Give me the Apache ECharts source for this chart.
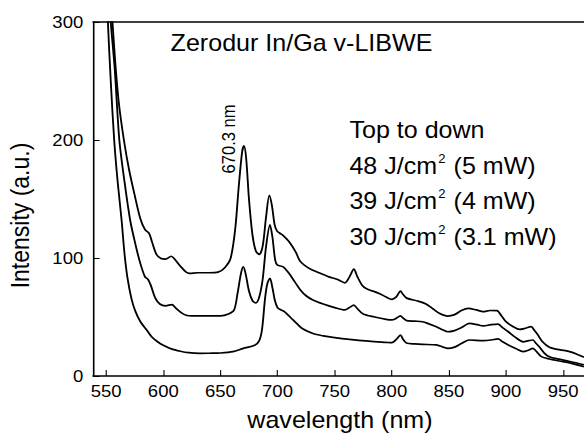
<!DOCTYPE html>
<html>
<head>
<meta charset="utf-8">
<script src="https://cdn.jsdelivr.net/npm/echarts@6/dist/echarts.min.js"></script>
<style>
html,body{margin:0;padding:0;background:#fff;overflow:hidden;}
#c{width:536px;height:441px;transform:scaleX(1.08955);transform-origin:0 0;}
</style>
</head>
<body>
<div id="c"></div>
<script>
// Tick labels
const xTicks = [550, 600, 650, 700, 750, 800, 850, 900, 950];
const yTicks = [0, 100, 200, 300];

// 48 J/cm2 (5 mW) - top curve: [wavelength nm, intensity a.u.]
const top48 = [
[553.5,330],[555.5,300],[558,265],[561,232],[565.5,200],[570,175],[575,153],[580,133],[584,124],[587.5,121],
[590,114],[594,103],[598,99.5],[602,99],[607,101.5],[610,99],[615,93],[620,88],[623,87],[630,87.5],
[640,87.5],[648,88],[654,92],[659,100],[663,125],[666,160],[669,190],[670.6,195],[672.5,185],[675,150],
[678,120],[681,106],[684,103],[687,110],[690,135],[692.8,153],[695,145],[697.5,128],[699.5,123],[702,121],
[705,119],[710,114],[716,105],[720,97],[728,91],[735,88],[745,84],[752,82],[759,79],[763,84],
[766.8,90.5],[770,84],[774,77],[778,74],[789,70],[795,67],[800,65],[804,67],[807.6,72],[810,69],
[813,66],[823,63.5],[830,61],[836,57],[842,53],[849,50.8],[855,52],[861,55.5],[867,57.3],[874,56],
[880,54.5],[886,55.5],[892,55.4],[896,51],[900,46],[906,42],[912,39.5],[917,40.5],[922,41.8],[925,38.5],
[928,34.7],[932,29],[938,24.3],[945,22.5],[952,21.5],[958,20],[962,18.5],[968.3,16]
];

// 39 J/cm2 (4 mW) - middle curve
const mid39 = [
[552,330],[554,300],[557.5,260],[561.5,200],[566,165],[571,132],[576,110],[580,95],[584,84],[586.5,82],
[589,77],[593,66],[597,61],[602,59.5],[607.5,60.5],[611,57.5],[616,53.5],[620,51.5],[625,51],[640,51],
[650,51],[657,52.5],[662,56],[665,70],[668,87],[670,92.5],[672,87],[675,72],[678,64],[681,62],
[684,67],[687,82],[690,110],[693.4,128],[695.5,118],[698,98],[700,94],[705,92.5],[710,87],[715,80],
[720,72.9],[725,68],[731,64.4],[740,61],[750,58],[759,56],[763,58],[766.8,60],[770,57],[775,52.5],
[785,50],[795,48],[800,47.5],[804,49],[807.6,51],[810,49],[813,46.9],[820,46.5],[827,46],[833,44],
[839,41.8],[845,39],[849,37.5],[855,38.5],[861,41],[868,44.6],[875,43.5],[880,42.4],[887,43.5],[893,44],
[897,41],[902,37.5],[908,33],[915,29],[920,30],[923.5,30.5],[926,28],[929.5,24.3],[934,19],[938,16.4],
[945,14.5],[955,12.5],[962,11],[968.3,9.5]
];

// 30 J/cm2 (3.1 mW) - bottom curve
const bot30 = [
[550.5,330],[551.5,300],[554,250],[557,200],[560,165],[563.5,132],[566,104],[568.5,84],[572,66],[575.5,55],
[580,46],[585.5,39],[590,33],[595,29],[600,26],[607,23],[615,21],[622,19.8],[632,19.2],[640,19.3],
[650,19.5],[661,20.6],[670,23.4],[680,26],[684,30],[686.5,40],[689,65],[691,78],[693.4,82.8],[695.5,75],
[697.7,64],[700,58],[702,56.5],[706,54.5],[711,50],[716.7,44.6],[722,40],[731,36],[740,34],[750,32.5],
[763,31],[780,29.5],[795,28.5],[800,28.2],[804,31],[807.6,34.7],[810,31],[813.4,27.7],[820,27.2],[827,26.8],
[839,26.3],[845,24.5],[849,23.4],[855,24.5],[861,27.5],[868,30.5],[880,30],[887,30.5],[893,31.4],[897,29],
[902,26.3],[909,23],[915,20.6],[920,22],[923.5,23.4],[927,20.5],[931,16.4],[938,14.4],[948,12.5],[958,10.5],
[968.3,8]
];

// Annotation block: [before superscript, superscript, after]
const legendLines = [
  ['Top to down', '', ''],
  ['48 J/cm', '2', ' (5 mW)'],
  ['39 J/cm', '2', ' (4 mW)'],
  ['30 J/cm', '2', ' (3.1 mW)']
];
const titleText = 'Zerodur In/Ga v-LIBWE';
const peakLabel = '670.3 nm';
const xName = 'wavelength (nm)';
const yName = 'Intensity (a.u.)';

const FONT = '"Liberation Sans", Arial, Helvetica, sans-serif';
const chart = echarts.init(document.getElementById('c'), null, {renderer: 'svg'});

function lineSeries(name, data) {
  return {
    name: name, type: 'line', data: data, xAxisIndex: 0, yAxisIndex: 0,
    showSymbol: false, symbol: 'none', smooth: 0.3, clip: true,
    lineStyle: {color: '#000', width: 1.7}, silent: true, animation: false
  };
}

const legendY = [130.3, 166, 201.3, 237];
const legendGraphics = legendLines.map((p, i) => ({
  type: 'text', x: 320.7, y: legendY[i],
  style: {
    text: p[1] ? '{a|' + p[0] + '}{s|' + p[1] + '}{a|' + p[2] + '}' : '{a|' + p[0] + '}',
    rich: {
      a: {fontSize: 23, fontFamily: FONT, fill: '#000', color: '#000', lineHeight: 26},
      s: {fontSize: 12, fontFamily: FONT, fill: '#000', color: '#000', verticalAlign: 'top', padding: [0, 1, 0, 1]}
    },
    fill: '#000', textAlign: 'left', verticalAlign: 'middle'
  }
}));

chart.setOption({
  animation: false,
  backgroundColor: '#fff',
  grid: {left: 85.4, right: 0, top: 22, bottom: 65, containLabel: false},
  xAxis: [{
    type: 'value', min: 538.5, max: 968.3, position: 'bottom',
    axisLine: {show: true, onZero: false, lineStyle: {color: '#000', width: 1.5}},
    axisTick: {show: true, inside: true, length: 6, customValues: xTicks, lineStyle: {color: '#000', width: 1}},
    axisLabel: {show: true, customValues: xTicks, color: '#000', fontSize: 17, fontFamily: FONT, margin: 7},
    splitLine: {show: false}
  }, {
    type: 'value', min: 538.5, max: 968.3, position: 'top',
    axisLine: {show: true, onZero: false, lineStyle: {color: '#000', width: 1.5}},
    axisTick: {show: false}, axisLabel: {show: false}, splitLine: {show: false}
  }],
  yAxis: {
    type: 'value', min: yTicks[0], max: yTicks[yTicks.length - 1], interval: 100,
    axisLine: {show: true, lineStyle: {color: '#000', width: 1.5}},
    axisTick: {show: true, inside: true, length: 6, lineStyle: {color: '#000', width: 1}},
    axisLabel: {color: '#000', fontSize: 17, fontFamily: FONT, margin: 9},
    splitLine: {show: false}
  },
  series: [lineSeries('48', top48), lineSeries('39', mid39), lineSeries('30', bot30)],
  graphic: [
    {type: 'text', x: 156.6, y: 42.7,
     style: {text: titleText, fill: '#000', font: '23px ' + FONT, textAlign: 'left', verticalAlign: 'middle'}},
    {type: 'text', x: 210.2, y: 139, rotation: Math.PI / 2,
     style: {text: peakLabel, fill: '#000', font: '16.5px ' + FONT, textAlign: 'center', verticalAlign: 'middle'}},
    {type: 'text', x: 312, y: 420.3,
     style: {text: xName, fill: '#000', font: '23px ' + FONT, textAlign: 'center', verticalAlign: 'middle'}},
    {type: 'text', x: 18.8, y: 215.5, rotation: Math.PI / 2,
     style: {text: yName, fill: '#000', font: '23px ' + FONT, textAlign: 'center', verticalAlign: 'middle'}}
  ].concat(legendGraphics)
});
</script>
</body>
</html>
